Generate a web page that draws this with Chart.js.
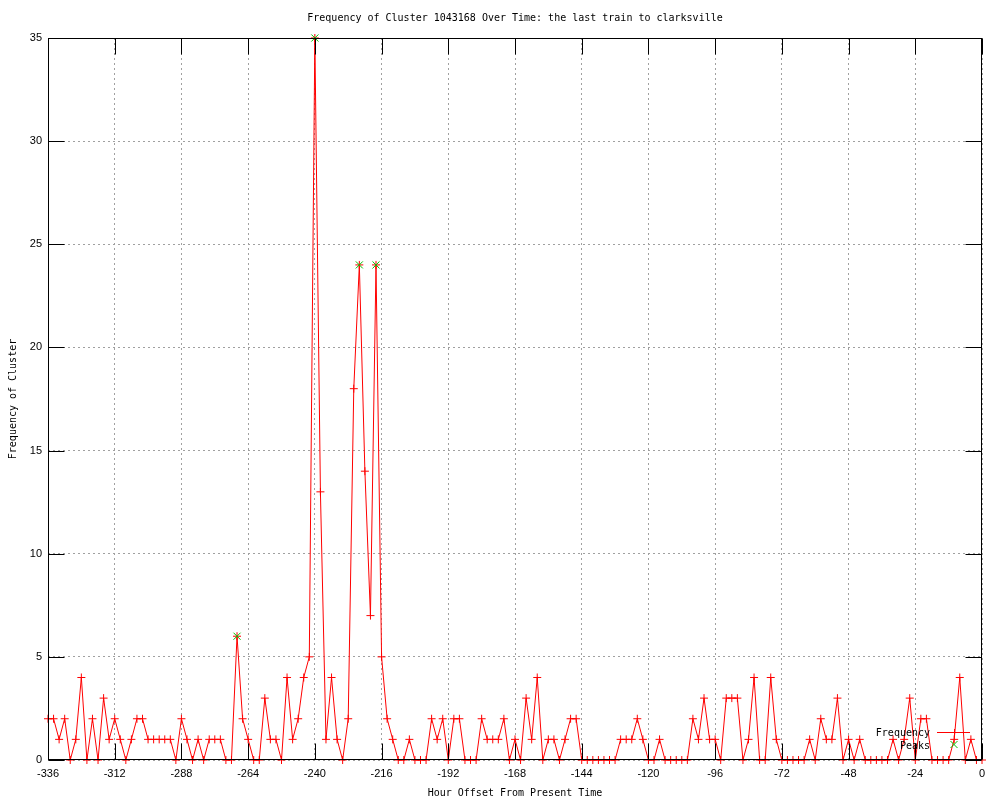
<!DOCTYPE html>
<html>
<head>
<meta charset="utf-8">
<script src="https://cdn.jsdelivr.net/npm/chart.js@4.4.1/dist/chart.umd.min.js"></script>
<style>
  html, body { margin: 0; padding: 0; background: #ffffff; }
  #c { display: block; }
</style>
</head>
<body>
<canvas id="c" width="1000" height="800"></canvas>
<script>
// ---- data ----
const chartTitle = 'Frequency of Cluster 1043168 Over Time: the last train to clarksville';
const xAxisLabel = 'Hour Offset From Present Time';
const yAxisLabel = 'Frequency of Cluster';

const hours = [
  -336,-334,-332,-330,-328,-326,-324,-322,-320,-318,-316,-314,-312,-310,-308,-306,-304,-302,-300,-298,
  -296,-294,-292,-290,-288,-286,-284,-282,-280,-278,-276,-274,-272,-270,-268,-266,-264,-262,-260,-258,
  -256,-254,-252,-250,-248,-246,-244,-242,-240,-238,-236,-234,-232,-230,-228,-226,-224,-222,-220,-218,
  -216,-214,-212,-210,-208,-206,-204,-202,-200,-198,-196,-194,-192,-190,-188,-186,-184,-182,-180,-178,
  -176,-174,-172,-170,-168,-166,-164,-162,-160,-158,-156,-154,-152,-150,-148,-146,-144,-142,-140,-138,
  -136,-134,-132,-130,-128,-126,-124,-122,-120,-118,-116,-114,-112,-110,-108,-106,-104,-102,-100,-98,
  -96,-94,-92,-90,-88,-86,-84,-82,-80,-78,-76,-74,-72,-70,-68,-66,-64,-62,-60,-58,
  -56,-54,-52,-50,-48,-46,-44,-42,-40,-38,-36,-34,-32,-30,-28,-26,-24,-22,-20,-18,
  -16,-14,-12,-10,-8,-6,-4,-2,0
];

const frequency = [
  2,2,1,2,0,1,4,0,2,0,3,1,2,1,0,1,2,2,1,1,
  1,1,1,0,2,1,0,1,0,1,1,1,0,0,6,2,1,0,0,3,
  1,1,0,4,1,2,4,5,35,13,1,4,1,0,2,18,24,14,7,24,
  5,2,1,0,0,1,0,0,0,2,1,2,0,2,2,0,0,0,2,1,
  1,1,2,0,1,0,3,1,4,0,1,1,0,1,2,2,0,0,0,0,
  0,0,0,1,1,1,2,1,0,0,1,0,0,0,0,0,2,1,3,1,
  1,0,3,3,3,0,1,4,0,0,4,1,0,0,0,0,0,1,0,2,
  1,1,3,0,1,0,1,0,0,0,0,0,1,0,1,3,0,2,2,0,
  0,0,0,1,4,0,1,0,0
];

const peakHours  = [-268, -240, -224, -218];
const peakValues = [6, 35, 24, 24];

const xTickValues = [-336,-312,-288,-264,-240,-216,-192,-168,-144,-120,-96,-72,-48,-24,0];
const yTickValues = [0,5,10,15,20,25,30,35];

// ---- styles ----
const RED = '#ff0000';
const GREEN = '#00c000';
const GRID = '#a0a0a0';
const MONO = "'DejaVu Sans Mono', 'Liberation Mono', monospace";
const SANS = "'Liberation Sans', Arial, sans-serif";

const freqPoints = hours.map((h, i) => ({ x: h, y: frequency[i] }));
const peakPoints = peakHours.map((h, i) => ({ x: h, y: peakValues[i] }));

// frame, mirrored inward ticks and key
const framePlugin = {
  id: 'gnuplotFrame',
  afterDatasetsDraw(chart) {
    const { ctx, chartArea: a, scales } = chart;
    const xs = scales.x, ys = scales.y;
    const L = Math.round(a.left) + 0.5, R = Math.round(a.right) - 0.5;
    const T = Math.round(a.top) + 0.5, B = Math.round(a.bottom) - 0.5;
    const TL = 16;
    ctx.save();
    ctx.strokeStyle = '#000000';
    ctx.lineWidth = 1;
    ctx.setLineDash([]);
    ctx.beginPath();
    xTickValues.forEach(v => {
      const px = Math.round(xs.getPixelForValue(v)) + 0.5;
      ctx.moveTo(px, B); ctx.lineTo(px, B - TL);
      ctx.moveTo(px, T); ctx.lineTo(px, T + TL);
    });
    yTickValues.forEach(v => {
      const py = Math.round(ys.getPixelForValue(v)) + 0.5;
      ctx.moveTo(L, py); ctx.lineTo(L + TL, py);
      ctx.moveTo(R, py); ctx.lineTo(R - TL, py);
    });
    ctx.stroke();
    ctx.strokeRect(L, T, R - L, B - T);
    ctx.restore();
  },
  afterDraw(chart) {
    const { ctx } = chart;
    const ds = chart.data.datasets;
    ctx.save();
    ctx.font = '10px ' + MONO;
    ctx.fillStyle = '#000000';
    ctx.textAlign = 'right';
    ctx.textBaseline = 'middle';
    const textRight = 930;
    const sampleL = 937, sampleR = 970, sampleC = 954;
    const rows = [733, 746];
    // Frequency entry
    ctx.fillText(ds[0].label, textRight, rows[0]);
    ctx.strokeStyle = ds[0].borderColor;
    ctx.lineWidth = 1;
    ctx.beginPath();
    ctx.moveTo(sampleL, rows[0] - 0.5); ctx.lineTo(sampleR, rows[0] - 0.5);
    ctx.moveTo(sampleC + 0.5, rows[0] - 4); ctx.lineTo(sampleC + 0.5, rows[0] + 4);
    ctx.stroke();
    // Peaks entry
    ctx.fillText(ds[1].label, textRight, rows[1]);
    ctx.strokeStyle = ds[1].pointBorderColor;
    ctx.beginPath();
    const r = 3.5, cy = rows[1] - 1.5;
    ctx.moveTo(sampleC - r, cy - r); ctx.lineTo(sampleC + r, cy + r);
    ctx.moveTo(sampleC + r, cy - r); ctx.lineTo(sampleC - r, cy + r);
    ctx.stroke();
    ctx.restore();
  }
};

new Chart(document.getElementById('c'), {
  type: 'line',
  data: {
    datasets: [
      {
        label: 'Frequency',
        data: freqPoints,
        borderColor: RED,
        backgroundColor: RED,
        borderWidth: 1,
        tension: 0,
        fill: false,
        pointStyle: 'cross',
        pointRadius: 4,
        pointBorderWidth: 1,
        pointBorderColor: RED,
        pointHoverRadius: 4,
        clip: 6,
        order: 1
      },
      {
        label: 'Peaks',
        data: peakPoints,
        showLine: false,
        borderColor: GREEN,
        backgroundColor: GREEN,
        pointStyle: 'crossRot',
        pointRadius: 5,
        pointBorderWidth: 1,
        pointBorderColor: GREEN,
        clip: 6,
        order: 0
      }
    ]
  },
  options: {
    responsive: false,
    animation: false,
    devicePixelRatio: 1,
    layout: { padding: { left: 0, right: 18, top: 0, bottom: 0 } },
    plugins: {
      legend: { display: false },
      tooltip: { enabled: false },
      title: {
        display: true,
        text: chartTitle,
        fullSize: false,
        color: '#000000',
        font: { family: MONO, size: 10, weight: 'normal', lineHeight: 1.2 },
        padding: { top: 12, bottom: 14 }
      }
    },
    scales: {
      x: {
        type: 'linear',
        position: 'bottom',
        min: -336,
        max: 0,
        afterBuildTicks: s => { s.ticks = xTickValues.map(v => ({ value: v })); },
        afterFit: s => { s.height = 40; },
        ticks: {
          color: '#000000',
          font: { family: SANS, size: 11 },
          padding: 7,
          maxRotation: 0,
          autoSkip: false,
          callback: v => String(v)
        },
        grid: { color: GRID, lineWidth: 1, drawTicks: false },
        border: { display: false, dash: [2, 3] },
        title: {
          display: true,
          text: xAxisLabel,
          color: '#000000',
          font: { family: MONO, size: 10, lineHeight: 1.2 },
          padding: { top: 0, bottom: 1 }
        }
      },
      y: {
        type: 'linear',
        position: 'left',
        min: 0,
        max: 35,
        afterBuildTicks: s => { s.ticks = yTickValues.map(v => ({ value: v })); },
        afterFit: s => { s.width = 48; },
        ticks: {
          color: '#000000',
          font: { family: SANS, size: 11 },
          padding: 6,
          autoSkip: false,
          callback: v => String(v)
        },
        grid: { color: GRID, lineWidth: 1, drawTicks: false },
        border: { display: false, dash: [2, 3] },
        title: {
          display: true,
          text: yAxisLabel,
          color: '#000000',
          font: { family: MONO, size: 10, lineHeight: 1.2 },
          padding: { top: 7, bottom: 0 }
        }
      }
    }
  },
  plugins: [framePlugin]
});
</script>
</body>
</html>
